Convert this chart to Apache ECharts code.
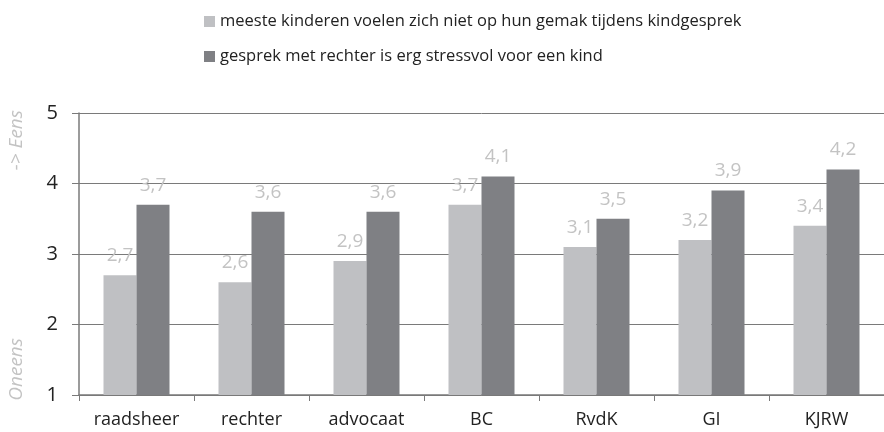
<!DOCTYPE html>
<html><head><meta charset="utf-8">
<script src="https://cdn.jsdelivr.net/npm/echarts@6/dist/echarts.min.js"></script>
<style>html,body{margin:0;padding:0;background:#fff}#c{width:884px;height:432px}</style>
</head><body><div id="c"></div>
<script>
const categories = ['raadsheer','rechter','advocaat','BC','RvdK','GI','KJRW'];
const seriesNames = ['meeste kinderen voelen zich niet op hun gemak tijdens kindgesprek','gesprek met rechter is erg stressvol voor een kind'];
const notAtEase = [2.7,2.6,2.9,3.7,3.1,3.2,3.4];
const stressful = [3.7,3.6,3.6,4.1,3.5,3.9,4.2];
const yTicks = [1,2,3,4,5];
const axisNameTop = '-> Eens';
const axisNameBottom = 'Oneens';

const FONT = 'Open Sans';
const chart = echarts.init(document.getElementById('c'), null, {renderer:'canvas'});
const lbl = {show:true, position:'top', distance:10, color:'#c3c3c3', fontSize:19, fontFamily:FONT,
  formatter:p=>String(p.value).replace('.',',')};
chart.setOption({
  animation:false,
  textStyle:{fontFamily:FONT},
  legend:{orient:'vertical', left:199, top:8, itemWidth:11, itemHeight:11, itemGap:18,
    icon:'rect', textStyle:{fontSize:16.5, color:'#222', fontFamily:FONT}, data:seriesNames},
  grid:{left:79, top:113, width:814, height:282, containLabel:false},
  xAxis:{type:'category', data:categories,
    axisLine:{lineStyle:{color:'#7a7a7a', width:1.5}},
    axisTick:{show:true, length:6, lineStyle:{color:'#7a7a7a'}},
    axisLabel:{fontSize:18, color:'#222', margin:16, fontFamily:FONT}},
  yAxis:{type:'value', min:1, max:5, interval:1,
    axisLine:{show:true, lineStyle:{color:'#7a7a7a', width:1.5}},
    axisTick:{show:true, length:7, lineStyle:{color:'#7a7a7a'}},
    axisLabel:{fontSize:20, color:'#222', margin:21, fontFamily:FONT,
      formatter:v=>yTicks.includes(v)?String(v):''},
    splitLine:{lineStyle:{color:'#7a7a7a', width:1}}},
  graphic:[
    {type:'text', left:7, top:110, rotation:Math.PI/2, style:{text:axisNameTop, fontSize:19, fontStyle:'italic', fill:'#c3c3c3', fontFamily:FONT}},
    {type:'text', left:7, top:338, rotation:Math.PI/2, style:{text:axisNameBottom, fontSize:19, fontStyle:'italic', fill:'#c3c3c3', fontFamily:FONT}}
  ],
  series:[
    {name:seriesNames[0], type:'bar', data:notAtEase, barWidth:33, barGap:'0%', itemStyle:{color:'#bfc0c3'}, label:lbl},
    {name:seriesNames[1], type:'bar', data:stressful, barWidth:33, barGap:'0%', itemStyle:{color:'#7f8084'}, label:lbl}
  ]
});
</script></body></html>
